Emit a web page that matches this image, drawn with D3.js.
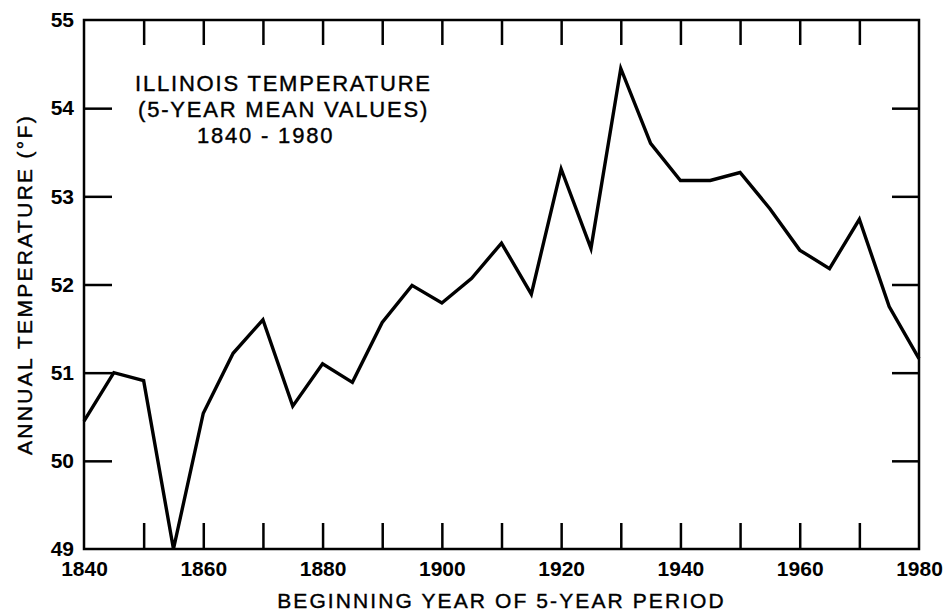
<!DOCTYPE html>
<html>
<head>
<meta charset="utf-8">
<script src="https://cdn.jsdelivr.net/npm/d3@7"></script>
<style>
  body { margin: 0; background: #fff; }
  svg text { font-family: "Liberation Sans", Arial, sans-serif; fill: #000; }
  .axis path { display: none; }
  .axis line { stroke: #000; stroke-width: 2.5; }
  .lab text { font-size: 21px; font-weight: bold; }
  .med { stroke: #000; stroke-width: 0.4; }
</style>
</head>
<body>
<div id="chart"></div>
<script>
// data: 5-year mean temperature, Illinois
var years = [1840, 1845, 1850, 1855, 1860, 1865, 1870, 1875, 1880, 1885,
             1890, 1895, 1900, 1905, 1910, 1915, 1920, 1925, 1930, 1935,
             1940, 1945, 1950, 1955, 1960, 1965, 1970, 1975, 1980];
var temps = [50.45, 51.0, 50.91, 49.0, 50.54, 51.22, 51.6, 50.62, 51.1, 50.89,
             51.57, 51.99, 51.79, 52.07, 52.47, 51.89, 53.31, 52.41, 54.45, 53.6,
             53.18, 53.18, 53.27, 52.86, 52.39, 52.18, 52.74, 51.75, 51.16];
var xLabels = [1840, 1860, 1880, 1900, 1920, 1940, 1960, 1980];
var xTicks = [1850, 1860, 1870, 1880, 1890, 1900, 1910, 1920, 1930, 1940, 1950, 1960, 1970];
var yLabels = [49, 50, 51, 52, 53, 54, 55];
var yTicks = [50, 51, 52, 53, 54];
var titleLines = ["ILLINOIS TEMPERATURE", "(5-YEAR MEAN VALUES)", "1840 - 1980"];

// margin
var margin = { top: 20, right: 29, bottom: 66, left: 84 },
    fullW = 948, fullH = 615,
    width = fullW - margin.left - margin.right,
    height = fullH - margin.top - margin.bottom;

var svg = d3.select("#chart")
    .append("svg")
    .attr("width", fullW)
    .attr("height", fullH);

var g = svg.append("g")
    .attr("transform", "translate(" + margin.left + "," + margin.top + ")");

var x = d3.scaleLinear().domain([1840, 1980]).range([0, width]);
var y = d3.scaleLinear().domain([49, 55]).range([height, 0]);

// inward ticks on all four sides
g.append("g").attr("class", "axis")
    .attr("transform", "translate(0," + height + ")")
    .call(d3.axisBottom(x).tickValues(xTicks).tickSize(-26).tickFormat(""));
g.append("g").attr("class", "axis")
    .call(d3.axisTop(x).tickValues(xTicks).tickSize(-25).tickFormat(""));
g.append("g").attr("class", "axis")
    .call(d3.axisLeft(y).tickValues(yTicks).tickSize(-28).tickFormat(""));
g.append("g").attr("class", "axis")
    .attr("transform", "translate(" + width + ",0)")
    .call(d3.axisRight(y).tickValues(yTicks).tickSize(-27).tickFormat(""));

// tick labels
g.append("g").attr("class", "axis lab")
    .attr("transform", "translate(0," + height + ")")
    .call(d3.axisBottom(x).tickValues(xLabels).tickSize(0).tickPadding(12).tickFormat(d3.format("d")));
g.append("g").attr("class", "axis lab")
    .call(d3.axisLeft(y).tickValues(yLabels).tickSize(0).tickPadding(10).tickFormat(d3.format("d")));

// frame
g.append("rect")
    .attr("width", width)
    .attr("height", height)
    .attr("fill", "none")
    .attr("stroke", "#000")
    .attr("stroke-width", 2.5);

// the line
var line = d3.line()
    .x(function(d, i) { return x(years[i]); })
    .y(function(d) { return y(d); });

g.append("path")
    .datum(temps)
    .attr("d", line)
    .attr("fill", "none")
    .attr("stroke", "#000")
    .attr("stroke-width", 3.4)
    .attr("stroke-linejoin", "miter");

// title block
var title = svg.append("text")
    .attr("class", "med")
    .attr("font-size", 22)
    .attr("letter-spacing", 1.8);
title.selectAll("tspan")
    .data(titleLines)
    .enter().append("tspan")
    .attr("x", function(d, i) { return [135, 138, 197][i]; })
    .attr("y", function(d, i) { return 91 + i * 26; })
    .text(function(d) { return d; });

// axis titles
svg.append("text")
    .attr("class", "med")
    .attr("x", margin.left + width / 2)
    .attr("y", 608)
    .attr("text-anchor", "middle")
    .attr("font-size", 21)
    .attr("letter-spacing", 2.1)
    .text("BEGINNING YEAR OF 5-YEAR PERIOD");

svg.append("text")
    .attr("class", "med")
    .attr("transform", "translate(32," + (margin.top + height / 2) + ") rotate(-90)")
    .attr("text-anchor", "middle")
    .attr("font-size", 21)
    .attr("letter-spacing", 2.3)
    .text("ANNUAL TEMPERATURE (°F)");
</script>
</body>
</html>
